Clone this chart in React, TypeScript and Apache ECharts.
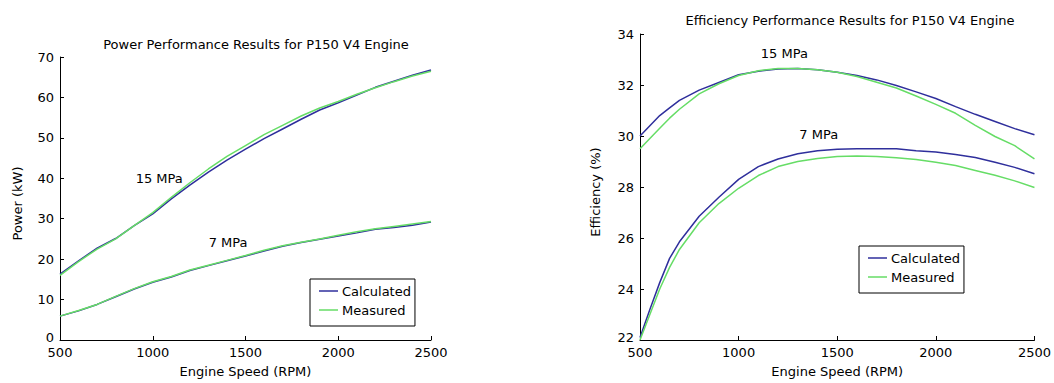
import React, { useEffect, useRef } from "react";
import * as echarts from "echarts";

// ---- Power chart data (kW) ----
const rpmP = [500, 600, 700, 800, 900, 1000, 1100, 1200, 1300, 1400, 1500, 1600, 1700, 1800, 1900, 2000, 2100, 2200, 2300, 2400, 2500];
const pow15Calc = [16.3, 19.6, 22.7, 25.1, 28.3, 31.2, 34.9, 38.3, 41.5, 44.5, 47.2, 49.8, 52.2, 54.6, 56.9, 58.7, 60.6, 62.5, 64.0, 65.5, 66.8];
const pow15Meas = [16.0, 19.4, 22.5, 25.0, 28.3, 31.5, 35.3, 38.9, 42.3, 45.4, 48.1, 50.8, 53.1, 55.4, 57.4, 59.0, 60.8, 62.4, 63.9, 65.3, 66.5];
const pow7Calc = [5.9, 7.2, 8.8, 10.7, 12.6, 14.3, 15.6, 17.2, 18.4, 19.6, 20.8, 22.0, 23.2, 24.1, 24.9, 25.7, 26.5, 27.4, 27.8, 28.4, 29.2];
const pow7Meas = [5.9, 7.3, 8.8, 10.8, 12.7, 14.4, 15.7, 17.3, 18.5, 19.7, 20.9, 22.2, 23.3, 24.2, 25.0, 25.9, 26.8, 27.5, 28.1, 28.7, 29.3];

// ---- Efficiency chart data (%) ----
const rpmE = [500, 550, 600, 650, 700, 800, 900, 1000, 1100, 1200, 1300, 1400, 1500, 1600, 1700, 1800, 1900, 2000, 2100, 2200, 2300, 2400, 2500];
const eff15Calc = [30.0, 30.4, 30.8, 31.1, 31.4, 31.8, 32.1, 32.4, 32.54, 32.63, 32.65, 32.6, 32.5, 32.37, 32.2, 31.98, 31.73, 31.47, 31.15, 30.85, 30.57, 30.29, 30.05];
const eff15Meas = [29.5, 29.9, 30.3, 30.7, 31.05, 31.65, 32.05, 32.37, 32.56, 32.65, 32.65, 32.6, 32.5, 32.33, 32.11, 31.88, 31.57, 31.24, 30.89, 30.42, 29.98, 29.62, 29.1];
const eff7Calc = [22.1, 23.2, 24.25, 25.2, 25.85, 26.85, 27.6, 28.3, 28.8, 29.1, 29.3, 29.42, 29.48, 29.5, 29.5, 29.5, 29.42, 29.37, 29.27, 29.16, 28.97, 28.77, 28.52];
const eff7Meas = [22.0, 23.0, 24.0, 24.85, 25.55, 26.6, 27.35, 27.95, 28.45, 28.8, 29.0, 29.12, 29.2, 29.22, 29.2, 29.15, 29.08, 28.97, 28.84, 28.65, 28.46, 28.24, 27.98];

// ---- Labels ----
const legendNames = ["Calculated", "Measured"];
const titles = ["Power Performance Results for P150 V4 Engine", "Efficiency Performance Results for P150 V4 Engine"];
const xName = "Engine Speed (RPM)";
const yNames = ["Power (kW)", "Efficiency (%)"];
const annotP = [
  { text: "15 MPa", x: 1035, y: 40 },
  { text: "7 MPa", x: 1406, y: 24.1 },
];
const annotE = [
  { text: "15 MPa", x: 1232, y: 33.23 },
  { text: "7 MPa", x: 1406, y: 30.05 },
];

const CALC = "#2f2f9c";
const MEAS = "#66dd66";
const FONT = "DejaVu Sans";

const zip = (xs: number[], ys: number[]) => xs.map((x, i) => [x, ys[i]]);

export default function App() {
  const ref = useRef<HTMLDivElement>(null);
  useEffect(() => {
    document.body.style.margin = "0";
    const chart = echarts.init(ref.current!, undefined, { renderer: "svg" });
    const txt = { color: "#000", fontFamily: FONT, fontSize: 13 };
    const axisCommon = {
      axisLine: { show: true, lineStyle: { color: "#000", width: 1 } },
      axisTick: { show: true, inside: true, length: 4, lineStyle: { color: "#000" } },
      splitLine: { show: false },
    };
    const xAxis = (gi: number) => ({
      type: "value",
      gridIndex: gi,
      min: 500,
      max: 2500,
      interval: 500,
      name: xName,
      nameLocation: "middle",
      nameGap: 25,
      nameTextStyle: { ...txt },
      ...axisCommon,
      axisLabel: { ...txt, lineHeight: 13, margin: 6, formatter: (v: number) => String(v) },
    });
    const yAxis = (gi: number, min: number, max: number, interval: number, name: string, gap: number) => ({
      type: "value",
      gridIndex: gi,
      min,
      max,
      interval,
      name,
      nameLocation: "middle",
      nameGap: gap,
      nameTextStyle: { ...txt, padding: [0, 10, 0, 0] },
      ...axisCommon,
      axisLabel: {
        ...txt,
        lineHeight: 13,
        margin: 6,
        formatter: (v: number) => (v === min ? `{m|${v}}` : String(v)),
        rich: { m: { ...txt, lineHeight: 13, padding: [0, 0, 5, 0] } },
      },
    });
    const mkLine = (name: string, color: string, xi: number, data: number[][], annot?: any[]) => ({
      type: "line",
      name,
      xAxisIndex: xi,
      yAxisIndex: xi,
      data,
      symbol: "none",
      showSymbol: false,
      color,
      lineStyle: { color, width: 1.5 },
      itemStyle: { color },
      z: name === "Measured" ? 3 : 2,
      markPoint: annot
        ? {
            symbol: "circle",
            symbolSize: 1,
            itemStyle: { color: "rgba(0,0,0,0)" },
            label: { show: true, position: "inside", ...txt, formatter: (p: any) => p.name },
            data: annot.map((a) => ({ name: a.text, coord: [a.x, a.y] })),
          }
        : undefined,
    });
    const legend = (left: number, top: number) => ({
      data: legendNames,
      orient: "vertical",
      left,
      top,
      icon: "rect",
      itemWidth: 19,
      itemHeight: 1.5,
      itemGap: 5,
      padding: [5, 4, 9, 9],
      borderColor: "#000",
      borderWidth: 1,
      backgroundColor: "#fff",
      textStyle: { ...txt, lineHeight: 14, padding: [0, 0, 0, -1] },
      selectedMode: false,
    });
    chart.setOption({
      animation: false,
      backgroundColor: "#fff",
      title: [
        { text: titles[0], left: 251, top: 33, textAlign: "center", textStyle: { ...txt, fontWeight: "normal" } },
        { text: titles[1], left: 845, top: 9, textAlign: "center", textStyle: { ...txt, fontWeight: "normal" } },
      ],
      legend: [legend(310, 279), legend(859, 246)],
      grid: [
        { left: 60, right: 623, top: 57, bottom: 35, containLabel: false },
        { left: 640, right: 19, top: 34, bottom: 37, containLabel: false },
      ],
      xAxis: [xAxis(0), xAxis(1)],
      yAxis: [yAxis(0, 0, 70, 10, yNames[0], 36), yAxis(1, 22, 34, 2, yNames[1], 38)],
      series: [
        mkLine("Calculated", CALC, 0, zip(rpmP, pow15Calc), annotP),
        mkLine("Calculated", CALC, 0, zip(rpmP, pow7Calc)),
        mkLine("Measured", MEAS, 0, zip(rpmP, pow15Meas)),
        mkLine("Measured", MEAS, 0, zip(rpmP, pow7Meas)),
        mkLine("Calculated", CALC, 1, zip(rpmE, eff15Calc), annotE),
        mkLine("Calculated", CALC, 1, zip(rpmE, eff7Calc)),
        mkLine("Measured", MEAS, 1, zip(rpmE, eff15Meas)),
        mkLine("Measured", MEAS, 1, zip(rpmE, eff7Meas)),
      ],
    });
    return () => chart.dispose();
  }, []);
  return <div ref={ref} style={{ width: 1054, height: 383 }} />;
}
